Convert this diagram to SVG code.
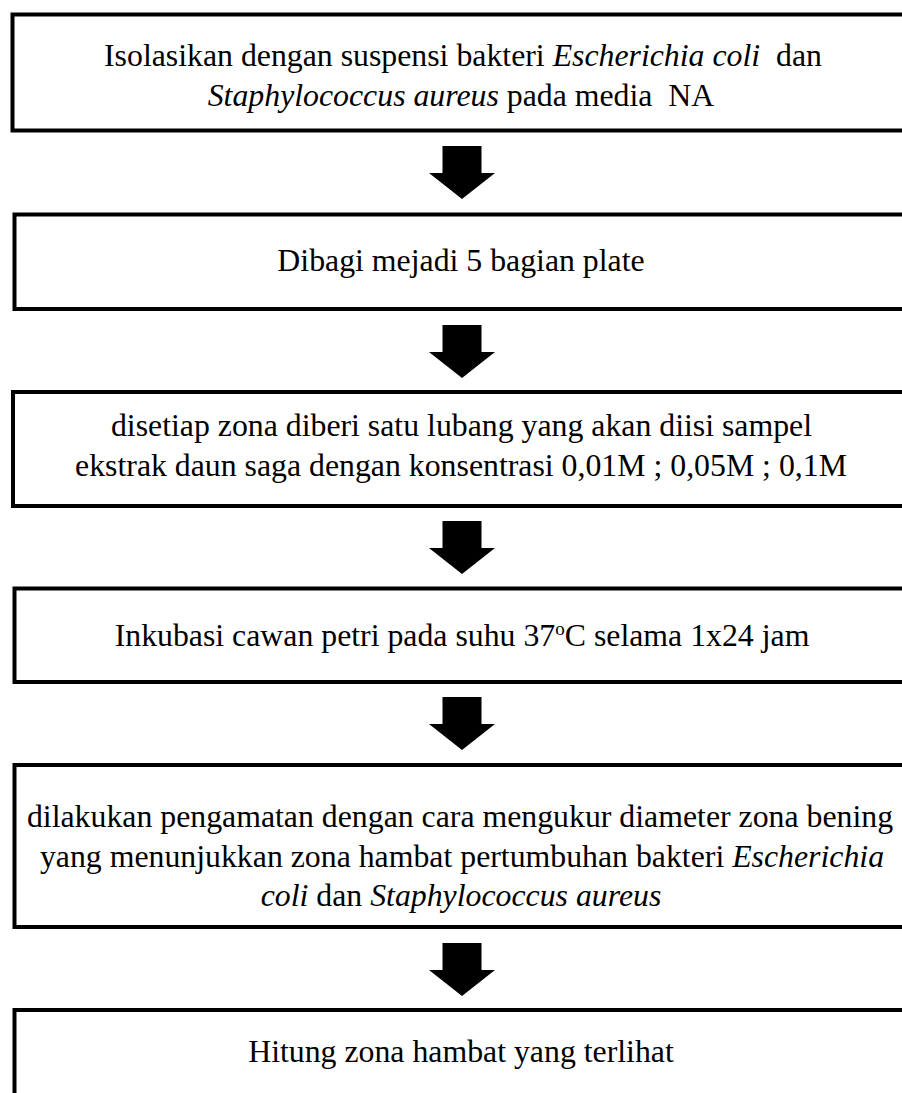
<svg xmlns="http://www.w3.org/2000/svg" width="902" height="1093" viewBox="0 0 902 1093">
<style>
.box{fill:#fff;stroke:#000;stroke-width:4}
.t{font-family:"Liberation Serif","Times New Roman",serif;font-size:31.8px;fill:#000;text-anchor:middle;white-space:pre}
.i{font-style:italic}
</style>
<defs>
<path id="arr" d="M-19.5 0 H19.5 V27 H33 L0 53 L-33 27 H-19.5 Z" fill="#000"/>
</defs>
<rect width="902" height="1093" fill="#fff"/>
<g id="connectors">
<use href="#arr" x="462" y="146"/>
<use href="#arr" x="462" y="325"/>
<use href="#arr" x="462" y="521"/>
<use href="#arr" x="462" y="697"/>
<use href="#arr" x="462" y="943"/>
</g>
<g id="n1">
<rect class="box" x="12.5" y="14.5" width="910" height="116"/>
<text class="t" x="463" y="66" xml:space="preserve">Isolasikan dengan suspensi bakteri <tspan class="i">Escherichia coli</tspan>  dan</text>
<text class="t" x="461" y="106" xml:space="preserve"><tspan class="i">Staphylococcus aureus</tspan> pada media  NA</text>
</g>
<g id="n2">
<rect class="box" x="14.5" y="214.5" width="910" height="94.5"/>
<text class="t" x="461" y="271">Dibagi mejadi 5 bagian plate</text>
</g>
<g id="n3">
<rect class="box" x="13" y="392" width="910" height="114"/>
<text class="t" x="461.5" y="436">disetiap zona diberi satu lubang yang akan diisi sampel</text>
<text class="t" x="461" y="476">ekstrak daun saga dengan konsentrasi 0,01M ; 0,05M ; 0,1M</text>
</g>
<g id="n4">
<rect class="box" x="14.5" y="588.5" width="910" height="93.5"/>
<text class="t" x="462" y="646">Inkubasi cawan petri pada suhu 37<tspan font-size="19" dy="-11">o</tspan><tspan dy="11">C selama 1x24 jam</tspan></text>
</g>
<g id="n5">
<rect class="box" x="14.5" y="765" width="910" height="162"/>
<text class="t" x="460" y="827">dilakukan pengamatan dengan cara mengukur diameter zona bening</text>
<text class="t" x="462" y="867">yang menunjukkan zona hambat pertumbuhan bakteri <tspan class="i">Escherichia</tspan></text>
<text class="t" x="461" y="906"><tspan class="i">coli</tspan> dan <tspan class="i">Staphylococcus aureus</tspan></text>
</g>
<g id="n6">
<rect class="box" x="14.5" y="1010" width="910" height="120"/>
<text class="t" x="461" y="1062">Hitung zona hambat yang terlihat</text>
</g>
</svg>
